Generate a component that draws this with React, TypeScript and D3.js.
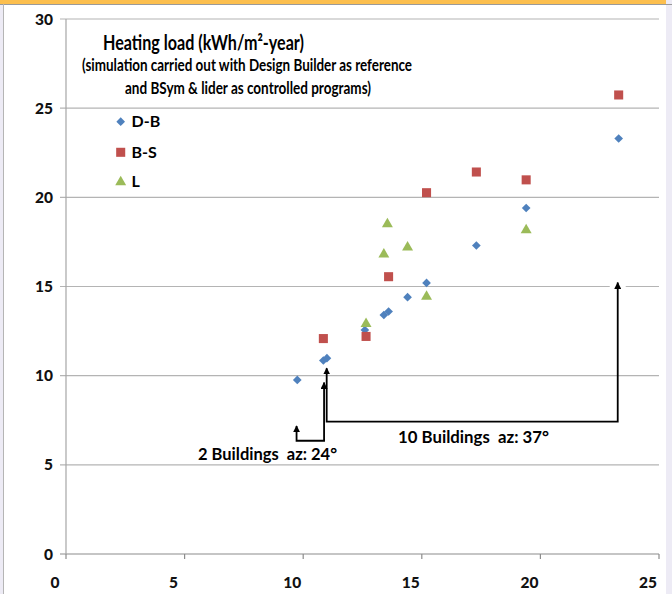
import * as d3 from 'd3';

// Heating load, kWh/m2-year
const dbPoints: [number, number][] = [
  [9.75, 9.76], [10.85, 10.85], [11.0, 10.98], [12.6, 12.56], [13.4, 13.4], [13.6, 13.6],
  [14.4, 14.4], [15.2, 15.2], [17.3, 17.3], [19.4, 19.4], [23.3, 23.3],
];
const bsPoints: [number, number][] = [
  [10.85, 12.08], [12.65, 12.2], [13.6, 15.55], [15.2, 20.26], [17.3, 21.42], [19.4, 20.98], [23.3, 25.74],
];
const lPoints: [number, number][] = [
  [12.65, 12.9], [13.4, 16.8], [13.55, 18.5], [14.4, 17.2], [15.2, 14.43], [19.4, 18.17],
];

const xTicks = [0, 5, 10, 15, 20, 25];
const yTicks = [0, 5, 10, 15, 20, 25, 30];

// connector arrows (data coords)
const arrowTwo: [number, number][] = [[9.72, 7.18], [9.72, 6.35], [10.88, 6.35], [10.88, 9.61]];
const arrowTen: [number, number][] = [[10.99, 10.42], [10.99, 7.42], [23.26, 7.42], [23.26, 15.22]];

const BLUE = '#4F81BD';
const RED = '#C0504D';
const GREEN = '#9BBB59';
const FONT = "Lato, 'Open Sans', sans-serif";

export default function App() {
  const width = 672;
  const height = 594;
  const margin = { top: 19, right: 13, bottom: 40, left: 66 };

  const x = d3.scaleLinear().domain([0, 25]).range([margin.left, width - margin.right]);
  const y = d3.scaleLinear().domain([0, 30]).range([height - margin.bottom, margin.top]);

  const line = d3
    .line<[number, number]>()
    .x((d) => x(d[0]))
    .y((d) => y(d[1]));

  const diamond = d3.symbol().type(d3.symbolDiamond2).size(48)()!;
  const square = d3.symbol().type(d3.symbolSquare).size(82)()!;
  const triangle = d3.symbol().type(d3.symbolTriangle).size(52)()!;

  const tip = arrowTen[arrowTen.length - 1];

  return (
    <svg
      width={width}
      height={height}
      style={{ position: 'absolute', left: 0, top: 0, background: '#ffffff' }}
    >
      <defs>
        <marker
          id="arrow"
          viewBox="0 0 10 10"
          refX="9"
          refY="5"
          markerWidth="7"
          markerHeight="7"
          markerUnits="userSpaceOnUse"
          orient="auto-start-reverse"
        >
          <path d="M0,0 L10,5 L0,10 z" fill="#000" />
        </marker>
      </defs>

      {/* window frame */}
      <rect x={0} y={0} width={3.5} height={height} fill="#EDEBF5" />
      <rect x={666} y={0} width={6} height={height} fill="#EDEBF5" />
      <rect x={0} y={0} width={666} height={4} fill="#FCBF4E" />
      <line x1={0} x2={width} y1={4.5} y2={4.5} stroke="#9a9a9a" />
      <line x1={3.5} x2={3.5} y1={4} y2={height} stroke="#b5b5b5" />

      {/* gridlines + y labels */}
      {yTicks.map((t) => (
        <g key={t}>
          <line
            x1={margin.left - 6}
            x2={width - margin.right}
            y1={y(t)}
            y2={y(t)}
            stroke={t === 0 ? '#8c8c8c' : '#b4b4b4'}
            strokeWidth={1.2}
          />
          <text
            x={53}
            y={y(t)}
            dy="0.36em"
            textAnchor="end"
            fontFamily={FONT}
            fontWeight={900}
            fontSize={15.5}
            fill="#111"
          >
            {t}
          </text>
        </g>
      ))}
      <line
        x1={margin.left}
        x2={margin.left}
        y1={y(30)}
        y2={y(0)}
        stroke="#a6a6a6"
        strokeWidth={1.2}
      />

      {/* x ticks + labels */}
      {xTicks.map((t) => (
        <g key={t}>
          <line x1={x(t)} x2={x(t)} y1={y(0)} y2={y(0) + 5} stroke="#8c8c8c" strokeWidth={1.2} />
          <text
            x={x(t) - 11}
            y={582}
            dy="0.36em"
            textAnchor="middle"
            fontFamily={FONT}
            fontWeight={900}
            fontSize={15.5}
            fill="#111"
          >
            {t}
          </text>
        </g>
      ))}

      {/* title */}
      <text x={103} y={43} dy="0.35em" fontFamily={FONT} fontWeight={700} fontSize={21} textLength={201} lengthAdjust="spacingAndGlyphs">
        Heating load (kWh/m²-year)
      </text>
      <text x={82} y={65} dy="0.35em" fontFamily={FONT} fontWeight={700} fontSize={17} textLength={330} lengthAdjust="spacingAndGlyphs">
        (simulation carried out with Design Builder as reference
      </text>
      <text x={125} y={88} dy="0.35em" fontFamily={FONT} fontWeight={700} fontSize={17} textLength={246} lengthAdjust="spacingAndGlyphs">
        and BSym &amp; lider as controlled programs)
      </text>

      {/* legend */}
      <path d={diamond} transform="translate(120.7,121.7)" fill={BLUE} />
      <text x={131.5} y={121.7} dy="0.36em" fontFamily={FONT} fontWeight={700} fontSize={16}>D-B</text>
      <path d={square} transform="translate(120.7,152.3)" fill={RED} />
      <text x={131.5} y={152.3} dy="0.36em" fontFamily={FONT} fontWeight={700} fontSize={16}>B-S</text>
      <path d={triangle} transform="translate(120.7,182)" fill={GREEN} />
      <text x={131.5} y={181.5} dy="0.36em" fontFamily={FONT} fontWeight={700} fontSize={16}>L</text>

      {/* connectors */}
      <rect x={x(tip[0]) - 8} y={y(tip[1]) + 1} width={16} height={6} fill="#fff" />
      <path d={line(arrowTwo)!} fill="none" stroke="#000" strokeWidth={1.8} markerStart="url(#arrow)" markerEnd="url(#arrow)" />
      <path d={line(arrowTen)!} fill="none" stroke="#000" strokeWidth={1.8} markerStart="url(#arrow)" markerEnd="url(#arrow)" />
      <text x={198} y={454} dy="0.35em" fontFamily={FONT} fontWeight={700} fontSize={17} textLength={139} lengthAdjust="spacingAndGlyphs" style={{ whiteSpace: 'pre' }}>
        {'2 Buildings  az: 24°'}
      </text>
      <text x={398} y={437} dy="0.35em" fontFamily={FONT} fontWeight={700} fontSize={17} textLength={151} lengthAdjust="spacingAndGlyphs" style={{ whiteSpace: 'pre' }}>
        {'10 Buildings  az: 37°'}
      </text>

      {/* series */}
      {dbPoints.map((d, i) => (
        <path key={`db${i}`} d={diamond} transform={`translate(${x(d[0])},${y(d[1])})`} fill={BLUE} />
      ))}
      {bsPoints.map((d, i) => (
        <path key={`bs${i}`} d={square} transform={`translate(${x(d[0])},${y(d[1])})`} fill={RED} />
      ))}
      {lPoints.map((d, i) => (
        <path key={`l${i}`} d={triangle} transform={`translate(${x(d[0])},${y(d[1])})`} fill={GREEN} />
      ))}
    </svg>
  );
}
